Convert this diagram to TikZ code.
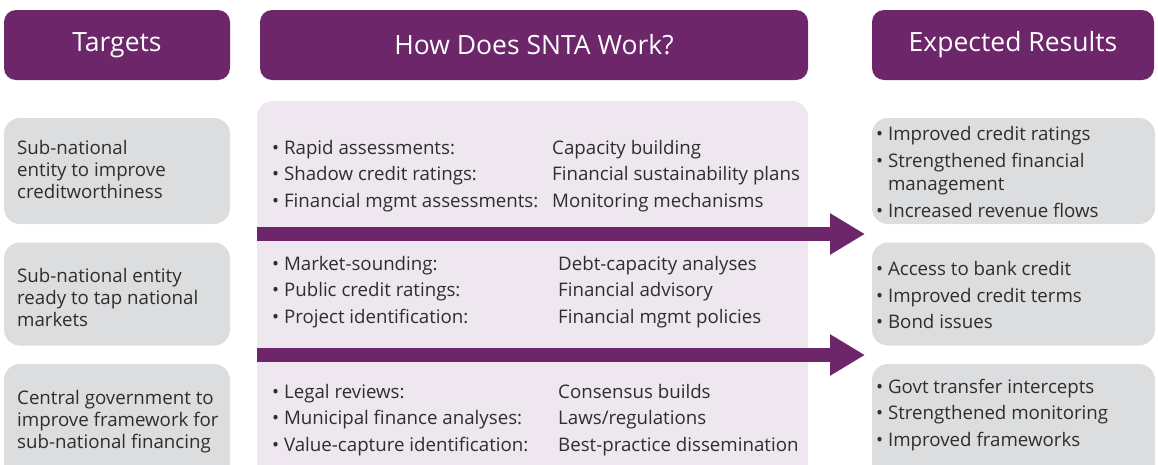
\documentclass[tikz,border=0pt]{standalone}
\usepackage{fontspec}
\setmainfont{Open Sans}
\usetikzlibrary{arrows.meta,positioning}
\definecolor{snta}{HTML}{6C2669}
\definecolor{panel}{HTML}{EFE7EF}
\definecolor{tgrey}{HTML}{DCDDDF}
\definecolor{ink}{HTML}{2E2E2E}
\tikzset{
  headbox/.style={fill=snta, rounded corners=12pt, text=white, inner sep=0pt,
    font=\fontsize{26.5}{30}\selectfont},
  greybox/.style={fill=tgrey, rounded corners=16pt, inner sep=0pt},
  body/.style={text=ink, align=left, anchor=west, inner sep=0pt,
    font=\fontsize{18.7}{22}\selectfont},
  list/.style={body, font=\fontsize{18.7}{26.8}\selectfont},
  flow/.style={line width=14pt, snta, -{Triangle[length=35pt,width=39pt]}},
}
\begin{document}
\begin{tikzpicture}[x=1pt, y=-1pt]
\useasboundingbox (0,0) rectangle (1158,464);
\clip (0,0) rectangle (1158,464);
% headers
\node[headbox, minimum width=226pt, minimum height=70pt] (targets) at (117,45) {Targets};
\node[headbox, minimum width=548pt, minimum height=70pt] (work) at (534,45) {How Does SNTA Work?};
\node[headbox, minimum width=282pt, minimum height=70pt] (results) at (1013,45) {Expected Results};
% middle panel
\node[fill=panel, rounded corners=16pt, inner sep=0pt, minimum width=551pt, minimum height=390pt] (panel) at (532.5,296) {};
% targets
\node[greybox, minimum width=226pt, minimum height=106pt] (t1) at (117,171) {};
\node[greybox, minimum width=226pt, minimum height=103pt] (t2) at (117,294) {};
\node[greybox, minimum width=226pt, minimum height=120pt] (t3) at (117,424) {};
% results
\node[greybox, minimum width=283pt, minimum height=106pt] (r1) at (1013.5,171) {};
\node[greybox, minimum width=283pt, minimum height=103pt] (r2) at (1013.5,294) {};
\node[greybox, minimum width=283pt, minimum height=120pt] (r3) at (1013.5,424) {};
% arrows
\coordinate (f1s) at (257,234);
\coordinate (f1e) at (865,234);
\coordinate (f2s) at (257,355);
\coordinate (f2e) at (865,355);
\draw[flow] (f1s) -- (f1e);
\draw[flow] (f2s) -- (f2e);
% target texts
\node[body] (t1txt) at (17,169) {Sub-national\\entity to improve\\creditworthiness};
\node[body] (t2txt) at (17,297) {Sub-national entity\\ready to tap national\\markets};
\node[body] (t3txt) at (17,422) {Central government to\\improve framework for\\sub-national financing};
% how it works
\node[list] (w1a) at (272,176) {• Rapid assessments:\\• Shadow credit ratings:\\• Financial mgmt assessments:};
\node[list] (w1b) at (552,176) {Capacity building\\Financial sustainability plans\\Monitoring mechanisms};
\node[list] (w2a) at (272,292) {• Market-sounding:\\• Public credit ratings:\\• Project identification:};
\node[list] (w2b) at (558,292) {Debt-capacity analyses\\Financial advisory\\Financial mgmt policies};
\node[list] (w3a) at (272,420) {• Legal reviews:\\• Municipal finance analyses:\\• Value-capture identification:};
\node[list] (w3b) at (558,420) {Consensus builds\\Laws/regulations\\Best-practice dissemination};
% results texts
\node[list] (r1txt) at (876,172) {• Improved credit ratings\\• Strengthened financial\\[-4pt]\phantom{• }management\\• Increased revenue flows};
\node[list] (r2txt) at (876,295) {• Access to bank credit\\• Improved credit terms\\• Bond issues};
\node[list] (r3txt) at (876,415) {• Govt transfer intercepts\\• Strengthened monitoring\\• Improved frameworks};
\end{tikzpicture}
\end{document}
